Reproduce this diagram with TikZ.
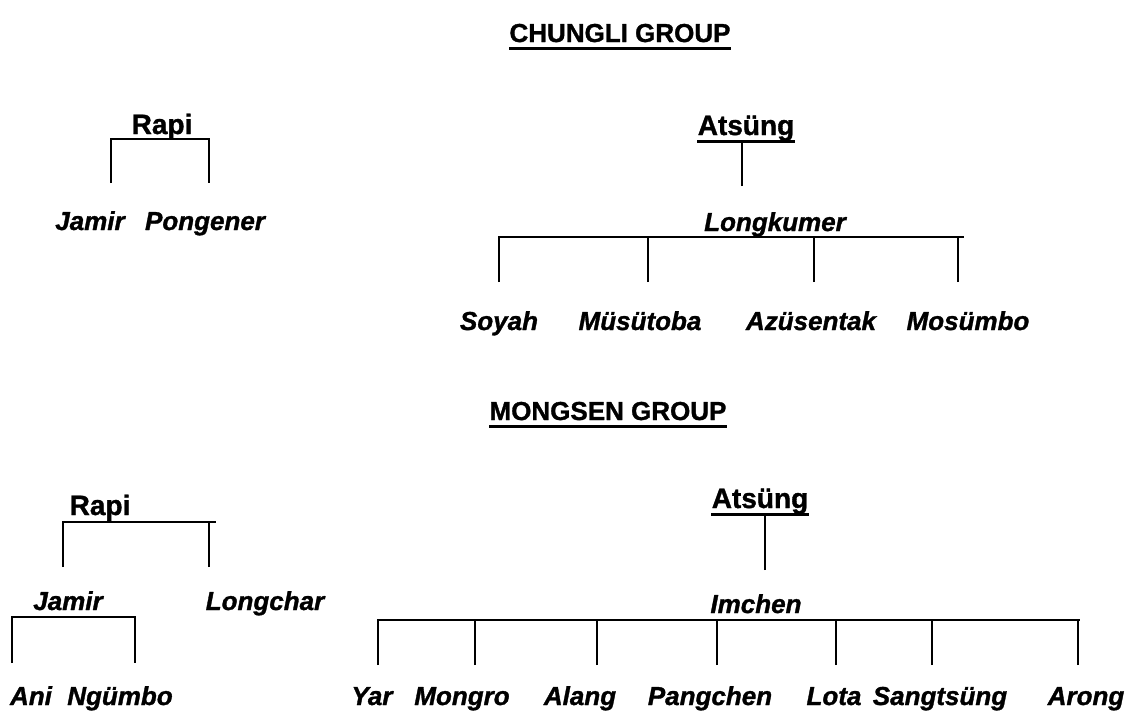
\documentclass[tikz,border=0pt]{standalone}
\usepackage{fontspec}
\setmainfont{Liberation Sans}[BoldFeatures={FakeBold=1.2}, BoldItalicFeatures={FakeBold=1.2}]
\usetikzlibrary{positioning}

\begin{document}
\begin{tikzpicture}[x=0.5pt, y=-0.5pt,
  grouptitle/.style={font=\bfseries\fontsize{13}{15}\selectfont, anchor=base, inner sep=0pt},
  clan/.style={font=\bfseries\fontsize{14}{16}\selectfont, anchor=base, inner sep=0pt},
  kin/.style={font=\bfseries\itshape\fontsize{13}{15}\selectfont, anchor=base, inner sep=0pt},
  stem/.style={draw, line width=1.3pt},
  uline/.style={draw, line width=1.5pt}]
  \useasboundingbox (0,0) rectangle (1131,713);

  % Chungli group
  \node [grouptitle] (chungli) at (620,42) {CHUNGLI GROUP};
  \draw [uline] ([yshift=-3pt]chungli.base west) -- ([yshift=-3pt]chungli.base east);

  \node [clan] (rapiA) at (162,134) {Rapi};
  \node [kin] (jamirA) at (90,230) {Jamir};
  \node [kin] (pongener) at (205,230) {Pongener};
  \coordinate (jamirA-leg) at (111,183);
  \coordinate (pongener-leg) at (209,183);
  \coordinate (rapiA-bar) at (209,139);
  \draw [stem] (jamirA-leg) |- (rapiA-bar) -- (pongener-leg);

  \node [clan] (atsungA) at (746,135) {Atsüng};
  \draw [uline] ([yshift=-3pt]atsungA.base west) -- ([yshift=-3pt]atsungA.base east);
  \node [kin] (longkumer) at (775,231) {Longkumer};
  \coordinate (longkumer-top) at (742,186);
  \draw [stem] (longkumer-top) -- ([yshift=-3pt]atsungA.base -| longkumer-top);

  \node [kin] (soyah) at (499,330) {Soyah};
  \node [kin] (musutoba) at (640,330) {Müsütoba};
  \node [kin] (azusentak) at (811,330) {Azüsentak};
  \node [kin] (mosumbo) at (968,330) {Mosümbo};
  \coordinate (soyah-leg) at (499,282);
  \coordinate (musutoba-leg) at (648,282);
  \coordinate (azusentak-leg) at (814,282);
  \coordinate (mosumbo-leg) at (958,282);
  \coordinate (longkumer-bar) at (964,237);
  \draw [stem] (soyah-leg) |- (longkumer-bar);
  \draw [stem] (musutoba-leg) -- (musutoba-leg |- longkumer-bar);
  \draw [stem] (azusentak-leg) -- (azusentak-leg |- longkumer-bar);
  \draw [stem] (mosumbo-leg) -- (mosumbo-leg |- longkumer-bar);

  % Mongsen group
  \node [grouptitle] (mongsen) at (608,420) {MONGSEN GROUP};
  \draw [uline] ([yshift=-3pt]mongsen.base west) -- ([yshift=-3pt]mongsen.base east);

  \node [clan] (rapiB) at (100,515) {Rapi};
  \node [kin] (jamirB) at (68,610) {Jamir};
  \node [kin] (longchar) at (265,610) {Longchar};
  \coordinate (jamirB-leg) at (63,567);
  \coordinate (longchar-leg) at (209,567);
  \coordinate (rapiB-bar) at (216,522);
  \draw [stem] (jamirB-leg) |- (rapiB-bar);
  \draw [stem] (longchar-leg) -- (longchar-leg |- rapiB-bar);

  \node [kin] (ani) at (31,705) {Ani};
  \node [kin] (ngumbo) at (120,705) {Ngümbo};
  \coordinate (ani-leg) at (12,663);
  \coordinate (ngumbo-leg) at (135,663);
  \coordinate (jamirB-bar) at (135,617);
  \draw [stem] (ani-leg) |- (jamirB-bar) -- (ngumbo-leg);

  \node [clan] (atsungB) at (760,508) {Atsüng};
  \draw [uline] ([yshift=-3pt]atsungB.base west) -- ([yshift=-3pt]atsungB.base east);
  \node [kin] (imchen) at (756,613) {Imchen};
  \coordinate (imchen-top) at (765,570);
  \draw [stem] (imchen-top) -- ([yshift=-3pt]atsungB.base -| imchen-top);

  \node [kin] (yar) at (372,705) {Yar};
  \node [kin] (mongro) at (462,705) {Mongro};
  \node [kin] (alang) at (580,705) {Alang};
  \node [kin] (pangchen) at (710,705) {Pangchen};
  \node [kin] (lota) at (834,705) {Lota};
  \node [kin] (sangtsung) at (940,705) {Sangtsüng};
  \node [kin] (arong) at (1086,705) {Arong};
  \coordinate (yar-leg) at (378,665);
  \coordinate (mongro-leg) at (475,665);
  \coordinate (alang-leg) at (597,665);
  \coordinate (pangchen-leg) at (717,665);
  \coordinate (lota-leg) at (836,665);
  \coordinate (sangtsung-leg) at (932,665);
  \coordinate (arong-leg) at (1078,665);
  \coordinate (imchen-bar) at (1080,620);
  \draw [stem] (yar-leg) |- (imchen-bar);
  \draw [stem] (mongro-leg) -- (mongro-leg |- imchen-bar);
  \draw [stem] (alang-leg) -- (alang-leg |- imchen-bar);
  \draw [stem] (pangchen-leg) -- (pangchen-leg |- imchen-bar);
  \draw [stem] (lota-leg) -- (lota-leg |- imchen-bar);
  \draw [stem] (sangtsung-leg) -- (sangtsung-leg |- imchen-bar);
  \draw [stem] (arong-leg) -- (arong-leg |- imchen-bar);
\end{tikzpicture}
\end{document}
